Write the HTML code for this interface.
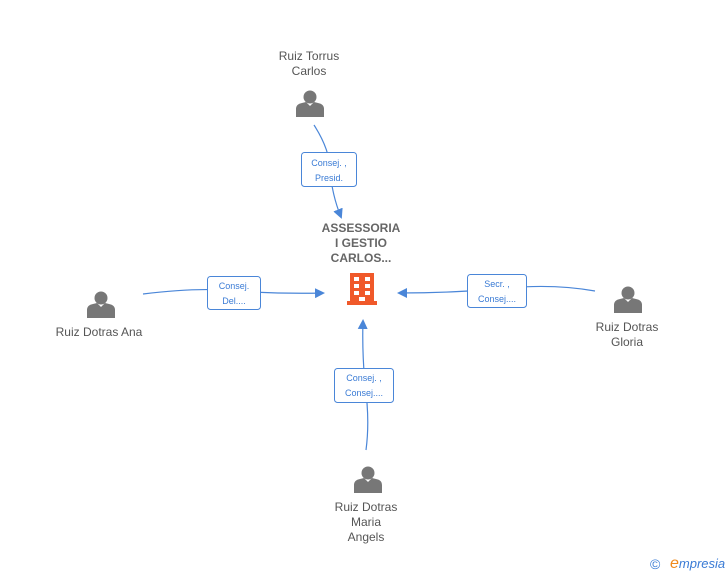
<!DOCTYPE html>
<html><head><style>
body{margin:0;background:#fff;width:728px;height:575px;overflow:hidden;font-family:"Liberation Sans",sans-serif}
svg text{font-family:"Liberation Sans",sans-serif}
</style></head><body>
<svg width="728" height="575" viewBox="0 0 728 575" xmlns="http://www.w3.org/2000/svg">
<defs>
<g id="p"><circle cx="0" cy="-6" r="6.5" fill="#777"/><path d="M-14 14 L-14 6 Q-14 1 -8 0 L-4 -1 L0 3 L4 -1 L8 0 Q14 1 14 6 L14 14 Z" fill="#777"/></g>
<marker id="a" markerWidth="10" markerHeight="10" refX="8" refY="5" orient="auto" markerUnits="userSpaceOnUse"><path d="M0 0 L10 5 L0 10 Z" fill="#4a86d8"/></marker>
</defs>
<g fill="none" stroke="#4a86d8" stroke-width="1.2">
<path d="M314 125 Q330 150 330 170 Q332 195 341 217" marker-end="url(#a)"/>
<path d="M143 294 Q200 287 233 291 Q280 294 323 293" marker-end="url(#a)"/>
<path d="M595 291 Q550 283 497 289 Q450 293 399 293" marker-end="url(#a)"/>
<path d="M366 450 Q370 420 365 385 Q362 350 363 321" marker-end="url(#a)"/>
</g>
<g fill="#fff" stroke="#4a86d8" stroke-width="1">
<rect x="301.5" y="152.5" width="55" height="34" rx="3"/>
<rect x="207.5" y="276.5" width="53" height="33" rx="3"/>
<rect x="467.5" y="274.5" width="59" height="33" rx="3"/>
<rect x="334.5" y="368.5" width="59" height="34" rx="3"/>
</g>
<g fill="#3a7bd5" font-size="9" text-anchor="middle">
<text x="329" y="166">Consej. ,</text><text x="329" y="181">Presid.</text>
<text x="234" y="289">Consej.</text><text x="234" y="304">Del....</text>
<text x="497" y="287">Secr. ,</text><text x="497" y="302">Consej....</text>
<text x="364" y="381">Consej. ,</text><text x="364" y="396">Consej....</text>
</g>
<use href="#p" x="310" y="103"/>
<use href="#p" x="101" y="304"/>
<use href="#p" x="628" y="299"/>
<use href="#p" x="368" y="479"/>
<g fill="#555" font-size="12" text-anchor="middle">
<text x="309" y="60">Ruiz Torrus</text><text x="309" y="75">Carlos</text>
<text x="99" y="336">Ruiz Dotras Ana</text>
<text x="627" y="331">Ruiz Dotras</text><text x="627" y="346">Gloria</text>
<text x="366" y="511">Ruiz Dotras</text><text x="366" y="526">Maria</text><text x="366" y="541">Angels</text>
</g>
<g fill="#666" font-size="12" font-weight="bold" text-anchor="middle">
<text x="361" y="232">ASSESSORIA</text><text x="361" y="247">I GESTIO</text><text x="361" y="262">CARLOS...</text>
</g>
<g fill="#f0592a">
<rect x="350" y="273" width="24" height="28"/>
<rect x="347" y="301" width="30" height="4"/>
</g>
<g fill="#fff">
<rect x="354" y="277" width="5" height="4"/><rect x="365" y="277" width="5" height="4"/>
<rect x="354" y="284" width="5" height="4"/><rect x="365" y="284" width="5" height="4"/>
<rect x="354" y="291" width="5" height="4"/><rect x="365" y="291" width="5" height="4"/>
<rect x="359" y="297" width="6" height="4"/>
</g>
<text x="650" y="569" font-size="14" fill="#3a7bd5">©</text>
<text x="670" y="568" font-size="13" font-style="italic" fill="#3a7bd5"><tspan fill="#f08a1c" font-size="16">e</tspan>mpresia</text>
</svg>
</body></html>
